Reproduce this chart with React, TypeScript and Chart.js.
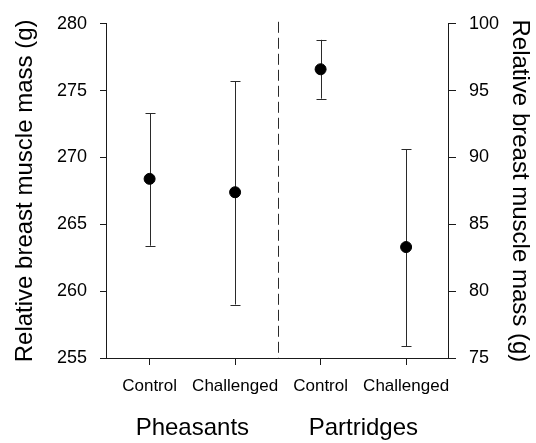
import React, { useEffect, useRef } from "react";
import { Chart, registerables } from "chart.js";

Chart.register(...registerables);

const categories = ["Control", "Challenged", "Control", "Challenged"];
const groups = ["Pheasants", "Partridges"];
const pheasantMeans = [268.4, 267.4];
const pheasantUpper = [273.3, 275.7];
const pheasantLower = [263.4, 259.0];
const partridgeMeans = [96.6, 83.3];
const partridgeUpper = [98.8, 90.6];
const partridgeLower = [94.4, 75.9];
const leftTicks = [255, 260, 265, 270, 275, 280];
const rightTicks = [75, 80, 85, 90, 95, 100];
const axisTitle = "Relative breast muscle mass (g)";

const FONT = "'Liberation Sans', Arial, Helvetica, sans-serif";
const INK = "#1a1a1a";

const errorBarPlugin = {
  id: "errorBars",
  beforeDatasetsDraw(chart: any) {
    const ctx = chart.ctx;
    const xScale = chart.scales.x;
    ctx.save();
    ctx.strokeStyle = "#2a2a2a";
    ctx.lineWidth = 1;
    chart.data.datasets.forEach((ds: any) => {
      const yScale = chart.scales[ds.yAxisID];
      ds.data.forEach((pt: any, i: number) => {
        const x = Math.round(xScale.getPixelForValue(pt.x)) + 0.5;
        const yU = yScale.getPixelForValue(ds.errorUpper[i]);
        const yL = yScale.getPixelForValue(ds.errorLower[i]);
        ctx.beginPath();
        ctx.moveTo(x, yU);
        ctx.lineTo(x, yL);
        ctx.moveTo(x - 5, Math.round(yU) + 0.5);
        ctx.lineTo(x + 5, Math.round(yU) + 0.5);
        ctx.moveTo(x - 5, Math.round(yL) + 0.5);
        ctx.lineTo(x + 5, Math.round(yL) + 0.5);
        ctx.stroke();
      });
    });
    ctx.restore();
  },
};

const dividerPlugin = {
  id: "divider",
  afterDraw(chart: any) {
    const ctx = chart.ctx;
    const x = Math.round(chart.scales.x.getPixelForValue(2.5)) + 0.5;
    const { top, bottom } = chart.chartArea;
    ctx.save();
    ctx.strokeStyle = "#2a2a2a";
    ctx.lineWidth = 1;
    ctx.setLineDash([11, 5]);
    ctx.beginPath();
    ctx.moveTo(x, top - 2);
    ctx.lineTo(x, bottom);
    ctx.stroke();
    ctx.restore();
  },
};

export default function App() {
  const ref = useRef<HTMLCanvasElement | null>(null);

  useEffect(() => {
    if (!ref.current) return;
    const chart = new Chart(ref.current, {
      type: "scatter",
      data: {
        datasets: [
          {
            label: "Pheasants",
            data: pheasantMeans.map((v, i) => ({ x: i + 1, y: v })),
            errorUpper: pheasantUpper,
            errorLower: pheasantLower,
            xAxisID: "x",
            yAxisID: "y",
            pointRadius: 5.5,
            pointBackgroundColor: "#000",
            pointBorderColor: "#000",
            pointBorderWidth: 1,
            showLine: false,
          } as any,
          {
            label: "Partridges",
            data: partridgeMeans.map((v, i) => ({ x: i + 3, y: v })),
            errorUpper: partridgeUpper,
            errorLower: partridgeLower,
            xAxisID: "x",
            yAxisID: "y1",
            pointRadius: 5.5,
            pointBackgroundColor: "#000",
            pointBorderColor: "#000",
            pointBorderWidth: 1,
            showLine: false,
          } as any,
        ],
      },
      options: {
        animation: false,
        responsive: true,
        maintainAspectRatio: false,
        layout: { padding: { top: 17, left: 0, right: 0, bottom: 0 } },
        plugins: { legend: { display: false }, tooltip: { enabled: false } },
        scales: {
          x: {
            type: "linear",
            position: "bottom",
            weight: 0,
            min: 0.49,
            max: 4.49,
            afterBuildTicks: (axis: any) => {
              axis.ticks = categories.map((_, i) => ({ value: i + 1 }));
            },
            ticks: {
              callback: (_v: any, i: number) => categories[i],
              font: { size: 17, family: FONT },
              color: "#000",
              padding: 11,
              maxRotation: 0,
              autoSkip: false,
            },
            grid: { display: true, drawOnChartArea: false, drawTicks: true, tickLength: 7, color: INK },
            border: { display: true, color: INK, width: 1 },
            afterFit: (axis: any) => {
              axis.height = 45;
            },
          },
          x2: {
            type: "linear",
            position: "bottom",
            weight: 1,
            min: 0.49,
            max: 4.49,
            afterBuildTicks: (axis: any) => {
              axis.ticks = [{ value: 1.5 }, { value: 3.5 }];
            },
            ticks: {
              callback: (_v: any, i: number) => groups[i],
              font: { size: 24, family: FONT },
              color: "#000",
              padding: 11,
              maxRotation: 0,
              autoSkip: false,
            },
            grid: { display: false, drawTicks: false },
            border: { display: false },
            afterFit: (axis: any) => {
              axis.height = 40;
            },
          },
          y: {
            type: "linear",
            position: "left",
            min: 255,
            max: 280,
            afterBuildTicks: (axis: any) => {
              axis.ticks = leftTicks.map((v) => ({ value: v }));
            },
            ticks: { font: { size: 18, family: FONT }, color: "#000", padding: 13 },
            grid: { display: true, drawOnChartArea: false, drawTicks: true, tickLength: 6, color: INK },
            border: { display: true, color: INK, width: 1 },
            title: {
              display: true,
              text: axisTitle,
              font: { size: 24, family: FONT },
              color: "#000",
              padding: { top: 10.6, bottom: 0 },
            },
            afterFit: (axis: any) => {
              axis.width = 106;
            },
          },
          y1: {
            type: "linear",
            position: "right",
            min: 75,
            max: 100,
            afterBuildTicks: (axis: any) => {
              axis.ticks = rightTicks.map((v) => ({ value: v }));
            },
            ticks: { font: { size: 18, family: FONT }, color: "#000", padding: 13 },
            grid: { display: true, drawOnChartArea: false, drawTicks: true, tickLength: 8, color: INK },
            border: { display: true, color: INK, width: 1 },
            title: {
              display: true,
              text: axisTitle,
              font: { size: 24, family: FONT },
              color: "#000",
              padding: { top: 1.6, bottom: 0 },
            },
            afterFit: (axis: any) => {
              axis.width = 88;
            },
          },
        },
      } as any,
      plugins: [errorBarPlugin, dividerPlugin],
    });
    return () => chart.destroy();
  }, []);

  return (
    <div style={{ position: "absolute", left: 0, top: 0, width: 536, height: 443, background: "#fff" }}>
      <canvas ref={ref} />
    </div>
  );
}
